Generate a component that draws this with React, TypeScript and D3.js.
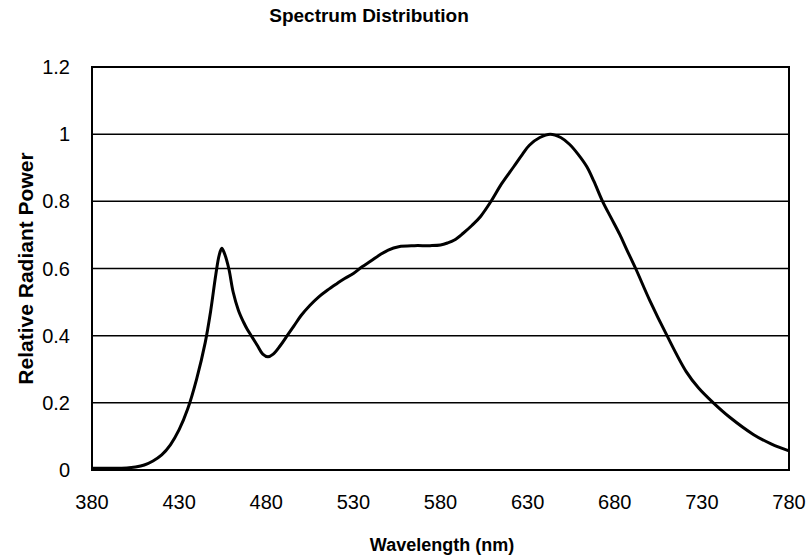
import React from "react";
import * as d3 from "d3";

const wavelengths = [380, 390, 400, 405, 410, 415, 420, 425, 430, 435, 440, 445, 448, 451, 453, 454.5, 456, 458.5, 461, 464, 467, 469, 472, 475, 478, 481, 484, 488, 492, 496, 500, 505, 510, 515, 520, 525, 530, 535, 540, 545, 550, 556, 565, 574, 580, 584, 588, 593, 598, 603, 609, 615, 622, 627, 631, 637, 643, 649, 654, 659, 664, 668, 673, 678, 683, 687, 692, 700, 710, 721, 728, 736.6, 746, 759.5, 770, 780];
const power = [0.005, 0.005, 0.006, 0.009, 0.015, 0.027, 0.045, 0.075, 0.12, 0.183, 0.27, 0.38, 0.47, 0.58, 0.64, 0.66, 0.645, 0.6, 0.53, 0.476, 0.44, 0.42, 0.395, 0.37, 0.345, 0.337, 0.345, 0.37, 0.4, 0.43, 0.46, 0.49, 0.515, 0.535, 0.553, 0.57, 0.585, 0.605, 0.622, 0.64, 0.655, 0.665, 0.668, 0.668, 0.67, 0.676, 0.685, 0.705, 0.728, 0.755, 0.8, 0.852, 0.903, 0.94, 0.967, 0.99, 1.0, 0.99, 0.97, 0.94, 0.903, 0.86, 0.8, 0.75, 0.7, 0.655, 0.6, 0.506, 0.4, 0.293, 0.245, 0.2, 0.157, 0.106, 0.077, 0.057];
const xTicks = [380, 430, 480, 530, 580, 630, 680, 730, 780];
const yTicks = [0, 0.2, 0.4, 0.6, 0.8, 1, 1.2];

const W = 809, H = 558;
const M = { left: 92, right: 20, top: 67, bottom: 88 };

export default function App() {
  const x = d3.scaleLinear().domain([380, 780]).range([M.left, W - M.right]);
  const y = d3.scaleLinear().domain([0, 1.2]).range([H - M.bottom, M.top]);
  const data = wavelengths.map((w, i) => [w, power[i]] as [number, number]);
  const line = d3.line<[number, number]>().x(d => x(d[0])).y(d => y(d[1])).curve(d3.curveCatmullRom.alpha(0.5));
  const font = "'Liberation Sans', Arial, sans-serif";
  return (
    <svg width={W} height={H} style={{ position: "absolute", left: 0, top: 0, background: "#fff" }} fontFamily={font}>
      <rect x={0} y={0} width={W} height={H} fill="#fff" />
      {yTicks.map(t => (
        <g key={t}>
          <line x1={x(380)} x2={x(780)} y1={y(t)} y2={y(t)} stroke="#000" strokeWidth={1.5} />
          <text x={M.left - 22} y={y(t)} dy="0.35em" textAnchor="end" fontSize={20}>{String(t)}</text>
        </g>
      ))}
      <rect x={x(380)} y={y(1.2)} width={x(780) - x(380)} height={y(0) - y(1.2)} fill="none" stroke="#000" strokeWidth={2} />
      {xTicks.map(t => (
        <text key={t} x={x(t)} y={509} textAnchor="middle" fontSize={20}>{t}</text>
      ))}
      <path d={line(data) || ""} fill="none" stroke="#000" strokeWidth={3} strokeLinejoin="round" />
      <text x={369} y={22} textAnchor="middle" fontSize={19} fontWeight="bold">Spectrum Distribution</text>
      <text x={442} y={551} textAnchor="middle" fontSize={18} fontWeight="bold">Wavelength (nm)</text>
      <text transform={`translate(33,${(y(0) + y(1.2)) / 2}) rotate(-90)`} textAnchor="middle" fontSize={21} fontWeight="bold">Relative Radiant Power</text>
    </svg>
  );
}
